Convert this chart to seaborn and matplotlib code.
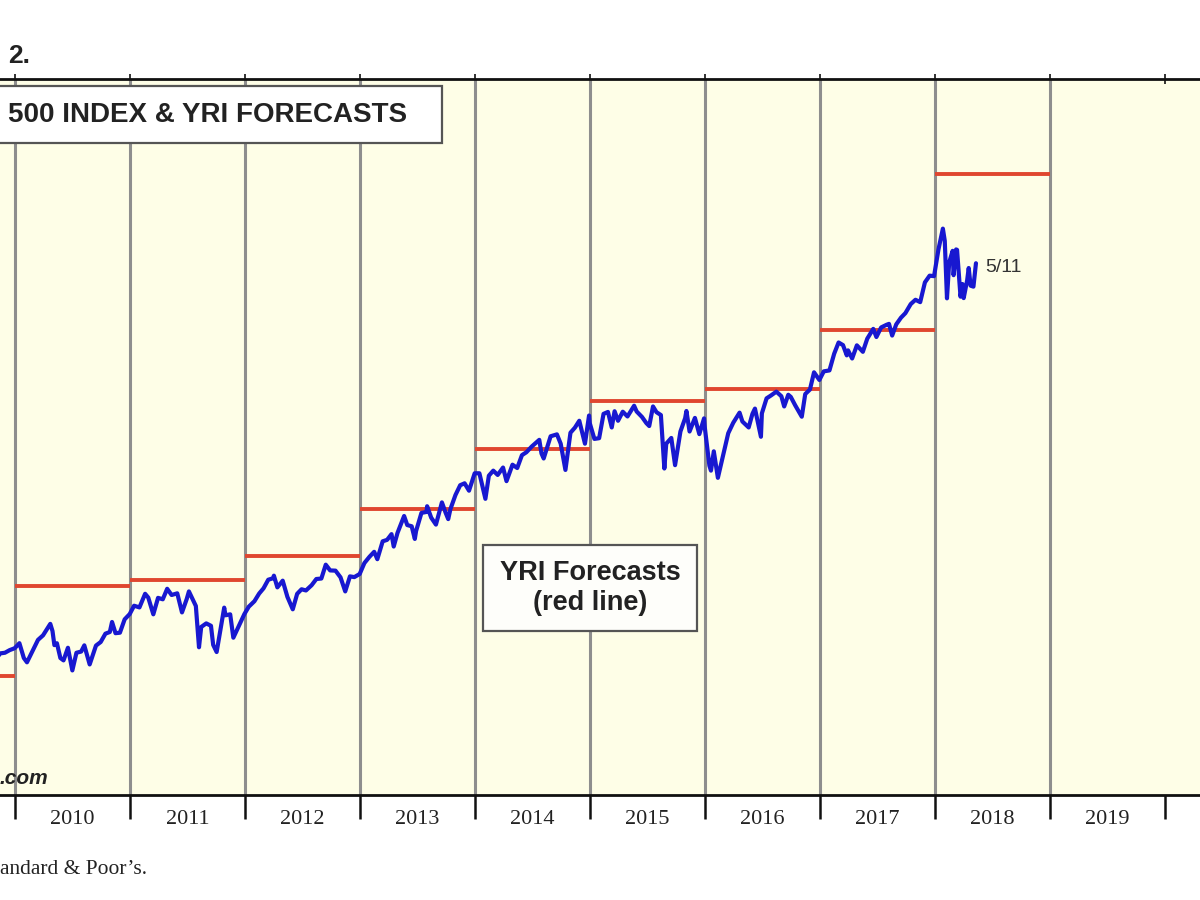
import numpy as np
import pandas as pd
import matplotlib
matplotlib.use("Agg")
import matplotlib.pyplot as plt
import seaborn as sns
from matplotlib.patches import Rectangle

# ---------------- data ----------------
sp_dates = [
    "2009-10-15", "2009-10-30", "2009-11-13", "2009-11-30", "2009-12-15", "2009-12-31",
    "2010-01-15", "2010-01-29", "2010-02-08", "2010-02-26", "2010-03-15", "2010-03-31",
    "2010-04-23", "2010-04-30", "2010-05-06", "2010-05-14", "2010-05-25", "2010-06-04",
    "2010-06-18", "2010-07-02", "2010-07-15", "2010-07-30", "2010-08-09", "2010-08-26",
    "2010-09-15", "2010-09-30", "2010-10-15", "2010-10-29", "2010-11-05", "2010-11-16",
    "2010-11-30", "2010-12-15", "2010-12-31",
    "2011-01-14", "2011-01-31", "2011-02-18", "2011-02-28", "2011-03-16", "2011-03-31",
    "2011-04-15", "2011-04-29", "2011-05-13", "2011-05-31", "2011-06-15", "2011-06-30",
    "2011-07-07", "2011-07-29", "2011-08-08", "2011-08-15", "2011-08-31", "2011-09-15",
    "2011-09-22", "2011-10-03", "2011-10-27", "2011-10-31", "2011-11-15", "2011-11-25",
    "2011-12-15", "2011-12-30",
    "2012-01-13", "2012-01-31", "2012-02-15", "2012-02-29", "2012-03-15", "2012-03-30",
    "2012-04-02", "2012-04-13", "2012-04-30", "2012-05-15", "2012-06-01", "2012-06-15",
    "2012-06-29", "2012-07-13", "2012-07-31", "2012-08-15", "2012-08-31", "2012-09-14",
    "2012-09-28", "2012-10-15", "2012-10-31", "2012-11-15", "2012-11-30", "2012-12-14",
    "2012-12-31",
    "2013-01-15", "2013-01-31", "2013-02-15", "2013-02-25", "2013-03-14", "2013-03-28",
    "2013-04-11", "2013-04-18", "2013-04-30", "2013-05-21", "2013-05-31", "2013-06-14",
    "2013-06-24", "2013-06-28", "2013-07-15", "2013-07-31", "2013-08-02", "2013-08-15",
    "2013-08-30", "2013-09-18", "2013-09-30", "2013-10-08", "2013-10-15", "2013-10-31",
    "2013-11-15", "2013-11-29", "2013-12-13", "2013-12-31",
    "2014-01-15", "2014-02-03", "2014-02-14", "2014-02-28", "2014-03-14", "2014-03-31",
    "2014-04-11", "2014-04-30", "2014-05-15", "2014-05-30", "2014-06-13", "2014-06-30",
    "2014-07-24", "2014-07-31", "2014-08-07", "2014-08-29", "2014-09-18", "2014-09-30",
    "2014-10-15", "2014-10-31", "2014-11-14", "2014-11-28", "2014-12-16", "2014-12-29",
    "2014-12-31",
    "2015-01-15", "2015-01-30", "2015-02-13", "2015-02-27", "2015-03-11", "2015-03-20",
    "2015-03-31", "2015-04-15", "2015-04-30", "2015-05-21", "2015-05-29", "2015-06-15",
    "2015-06-29", "2015-07-08", "2015-07-20", "2015-07-31", "2015-08-14", "2015-08-25",
    "2015-08-31", "2015-09-16", "2015-09-28", "2015-10-15", "2015-10-30", "2015-11-03",
    "2015-11-13", "2015-11-30", "2015-12-14", "2015-12-29", "2015-12-31",
    "2016-01-15", "2016-01-20", "2016-01-29", "2016-02-11", "2016-02-29", "2016-03-15",
    "2016-03-31", "2016-04-20", "2016-04-29", "2016-05-19", "2016-05-31", "2016-06-08",
    "2016-06-27", "2016-06-30", "2016-07-15", "2016-07-29", "2016-08-15", "2016-08-31",
    "2016-09-09", "2016-09-22", "2016-09-30", "2016-10-14", "2016-11-04", "2016-11-15",
    "2016-11-30", "2016-12-13", "2016-12-30",
    "2017-01-13", "2017-01-31", "2017-02-15", "2017-03-01", "2017-03-15", "2017-03-27",
    "2017-03-31", "2017-04-13", "2017-04-28", "2017-05-17", "2017-05-31", "2017-06-19",
    "2017-06-29", "2017-07-14", "2017-07-31", "2017-08-08", "2017-08-18", "2017-08-31",
    "2017-09-15", "2017-09-29", "2017-10-16", "2017-10-31", "2017-11-15", "2017-11-30",
    "2017-12-15", "2017-12-29",
    "2018-01-12", "2018-01-26", "2018-02-01", "2018-02-08", "2018-02-15", "2018-02-26",
    "2018-03-01", "2018-03-09", "2018-03-12", "2018-03-23", "2018-03-29", "2018-04-02",
    "2018-04-13", "2018-04-18", "2018-04-24", "2018-05-03", "2018-05-11",
]
sp_values = [
    1096, 1036, 1093, 1096, 1107, 1115,
    1136, 1074, 1056, 1104, 1150, 1169,
    1217, 1187, 1128, 1136, 1074, 1064,
    1117, 1022, 1096, 1101, 1127, 1047,
    1126, 1141, 1176, 1183, 1225, 1178,
    1180, 1236, 1258,
    1293, 1286, 1343, 1327, 1257, 1326,
    1320, 1364, 1338, 1345, 1265, 1321,
    1353, 1292, 1119, 1204, 1219, 1209,
    1129, 1099, 1285, 1253, 1257, 1159,
    1216, 1258,
    1289, 1312, 1344, 1366, 1402, 1408,
    1419, 1370, 1398, 1330, 1278, 1343,
    1362, 1357, 1379, 1405, 1407, 1465,
    1441, 1440, 1412, 1353, 1416, 1413,
    1426,
    1472, 1498, 1519, 1488, 1563, 1569,
    1593, 1541, 1598, 1669, 1631, 1626,
    1573, 1606, 1682, 1686, 1710, 1662,
    1633, 1726, 1682, 1656, 1698, 1757,
    1798, 1806, 1775, 1848,
    1848, 1741, 1838, 1859, 1841, 1872,
    1815, 1884, 1870, 1924, 1936, 1960,
    1988, 1931, 1910, 2003, 2011, 1972,
    1862, 2018, 2039, 2068, 1972, 2090,
    2059,
    1992, 1995, 2097, 2105, 2040, 2108,
    2068, 2106, 2086, 2131, 2107, 2084,
    2058, 2046, 2128, 2104, 2092, 1868,
    1972, 1996, 1882, 2023, 2079, 2109,
    2023, 2080, 2012, 2078, 2044,
    1880, 1859, 1940, 1829, 1932, 2016,
    2060, 2102, 2065, 2040, 2097, 2119,
    2001, 2099, 2162, 2174, 2190, 2171,
    2128, 2177, 2168, 2133, 2085, 2180,
    2199, 2271, 2239,
    2275, 2279, 2349, 2396, 2385, 2342,
    2363, 2329, 2384, 2357, 2412, 2453,
    2419, 2459, 2470, 2474, 2425, 2472,
    2500, 2519, 2557, 2575, 2565, 2648,
    2676, 2674,
    2786, 2873, 2822, 2581, 2731, 2780,
    2678, 2786, 2784, 2588, 2641, 2582,
    2656, 2708, 2634, 2630, 2728,
]

forecast_years = [2009, 2010, 2011, 2012, 2013, 2014, 2015, 2016, 2017, 2018]
forecast_values = [1000, 1375, 1400, 1500, 1700, 1950, 2150, 2200, 2450, 3100]

grid_years = [2010, 2011, 2012, 2013, 2014, 2015, 2016, 2017, 2018, 2019]
tick_years = [2010, 2011, 2012, 2013, 2014, 2015, 2016, 2017, 2018, 2019, 2020]
year_labels = ["2010", "2011", "2012", "2013", "2014", "2015", "2016", "2017", "2018", "2019"]

# ---------------- helpers ----------------
dt = pd.to_datetime(sp_dates)
days_in_year = np.where(dt.is_leap_year, 366, 365)
sp_x = dt.year + (dt.dayofyear - 1) / days_in_year
df = pd.DataFrame({"x": sp_x, "value": sp_values})

sns.set_theme(style="white")
plt.rcParams["font.family"] = ["Liberation Sans", "DejaVu Sans"]

W, H = 1200, 900
fig = plt.figure(figsize=(12, 9), dpi=100)
fig.patch.set_facecolor("white")

def fx(px):
    return px / W

def fy(py):
    return 1 - py / H

ax = fig.add_axes([0, fy(795), 1, (795 - 79) / H])
ax.set_facecolor("#FEFEE7")

px_per_year = 115.0
ax.set_xlim(2010 - 15 / px_per_year, 2010 + (W - 15) / px_per_year)
ax.set_ylim(500, 3500)

for yr in grid_years:
    ax.axvline(yr, color="#8e8e8e", lw=2.2, zorder=1)

ax.hlines(forecast_values, forecast_years, [y + 1 for y in forecast_years],
          color="#E0472F", lw=2.8, zorder=2)

sns.lineplot(data=df, x="x", y="value", ax=ax, color="#1818D0", lw=3.0,
             estimator=None, sort=False, zorder=3)

ax.set_xlabel("")
ax.set_ylabel("")
ax.set_yticks([])
for side in ["left", "right"]:
    ax.spines[side].set_visible(False)
for side in ["top", "bottom"]:
    ax.spines[side].set_visible(True)
    ax.spines[side].set_color("#111111")
    ax.spines[side].set_linewidth(2.0)

ax.set_xticks(tick_years)
ax.set_xticklabels([])
ax.set_xticks([y + 0.5 for y in tick_years[:-1]], minor=True)
ax.set_xticklabels(year_labels, minor=True, family="Liberation Serif",
                   fontsize=16, color="#222222")
ax.tick_params(axis="x", which="major", direction="out", length=17, width=1.8,
               color="#111111", bottom=True, top=False)
ax.tick_params(axis="x", which="minor", length=0, pad=11, bottom=True, top=False)

sec = ax.secondary_xaxis("top")
sec.set_xticks(tick_years)
sec.set_xticklabels([])
sec.tick_params(axis="x", direction="inout", length=7, width=1.2, color="#111111")
sec.spines["top"].set_visible(False)

# ---------------- annotations ----------------
fig.text(fx(8), fy(56), "2.", fontsize=19, fontweight="bold", color="#222222",
         ha="left", va="center")

fig.add_artist(Rectangle((fx(-10), fy(143)), fx(452), (143 - 86) / H,
                         transform=fig.transFigure, facecolor="white",
                         edgecolor="#555555", lw=1.6, zorder=5))
fig.text(fx(8), fy(115), "500 INDEX & YRI FORECASTS", fontsize=20,
         fontweight="bold", color="#222222", ha="left", va="center", zorder=6)

fig.add_artist(Rectangle((fx(483), fy(631)), fx(697 - 483), (631 - 545) / H,
                         transform=fig.transFigure, facecolor="#FEFEFA",
                         edgecolor="#555555", lw=1.6, zorder=5))
fig.text(fx(590), fy(588), "YRI Forecasts\n(red line)", fontsize=19.5,
         fontweight="bold", color="#222222", ha="center", va="center",
         linespacing=1.15, zorder=6)

ax.annotate("5/11", xy=(sp_x[-1], sp_values[-1]), xytext=(7, -3),
            textcoords="offset points", fontsize=14, color="#333333",
            ha="left", va="center")

fig.text(fx(0), fy(779), ".com", fontsize=15, fontweight="bold", style="italic",
         color="#222222", ha="left", va="center", zorder=6)
fig.text(fx(0), fy(870), "andard & Poor\u2019s.", fontsize=15.5,
         family="Liberation Serif", color="#222222", ha="left", va="center")

fig.savefig("out.png", dpi=100)
